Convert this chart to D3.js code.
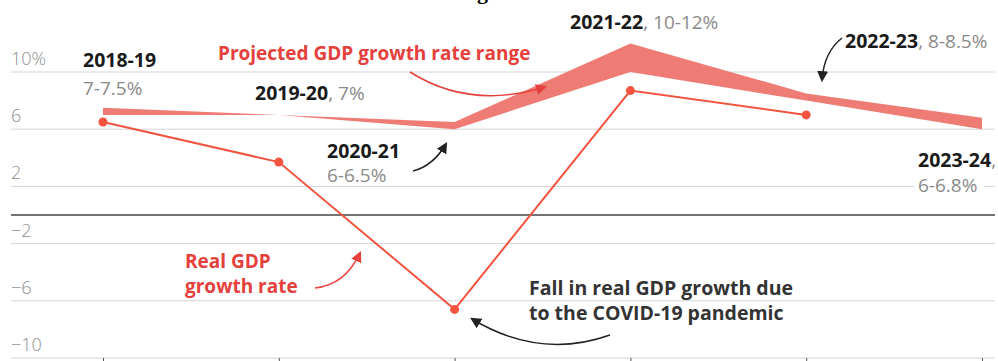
<!DOCTYPE html>
<head>
<style>
    body { margin: 0; background: #fff; font-family: "Open Sans", "Noto Sans", sans-serif; }
    .grid line { stroke: #d4d4d4; stroke-width: 1; }
    .ylab { fill: #8f8f8f; font-size: 18px; font-weight: 300; }
    .yr { font-weight: bold; fill: #1a1a1a; font-size: 19.5px; }
    .val { fill: #8a8a8a; font-size: 19px; font-weight: normal; }
    .red { fill: #e5403b; font-weight: bold; font-size: 19px; }
    .note { font-weight: bold; fill: #333; font-size: 19.5px; }
</style>
</head>
<body>
<script src="https://cdnjs.cloudflare.com/ajax/libs/d3/7.8.5/d3.min.js"></script>
<script>
var years = ["2018-19", "2019-20", "2020-21", "2021-22", "2022-23", "2023-24"];
var realGrowth = [6.5, 3.7, -6.6, 8.7, 7.0, null];
var projLow = [7, 7, 6, 10, 8, 6];
var projHigh = [7.5, 7, 6.5, 12, 8.5, 6.8];
var yTicks = [10, 6, 2, -2, -6, -10];

var width = 998, height = 361;
var svg = d3.select("body").append("svg")
    .attr("width", width)
    .attr("height", height);

var x = d3.scalePoint().domain(years).range([103, 982]);
var y = d3.scaleLinear().domain([-10, 10]).range([358, 72]);

// title sits above the frame, only a descender shows
svg.append("text")
    .attr("x", 477).attr("y", -1)
    .attr("font-family", "'Liberation Serif', serif")
    .attr("font-weight", "bold").attr("font-size", 22)
    .attr("text-anchor", "end")
    .text("India's GDP ");
svg.append("text")
    .attr("x", 477).attr("y", -1)
    .attr("font-family", "'Liberation Serif', serif")
    .attr("font-weight", "bold").attr("font-size", 22)
    .text("growth");

// gridlines
var grid = svg.append("g").attr("class", "grid");
grid.selectAll("line")
    .data(yTicks)
    .enter().append("line")
    .attr("x1", 11).attr("x2", 995)
    .attr("y1", function(d) { return y(d); })
    .attr("y2", function(d) { return y(d); });

svg.append("line")
    .attr("x1", 11).attr("x2", 995)
    .attr("y1", y(0)).attr("y2", y(0))
    .attr("stroke", "#444").attr("stroke-width", 1.3);

svg.selectAll(".ylab")
    .data(yTicks)
    .enter().append("text")
    .attr("class", "ylab")
    .attr("x", 11)
    .attr("y", function(d) { return y(d) - 7; })
    .text(function(d) { return d == 10 ? "10%" : d < 0 ? "\u2212" + Math.abs(d) : d; });

// bottom ticks
var xAxis = svg.append("g")
    .attr("transform", "translate(0," + y(-10) + ")")
    .call(d3.axisBottom(x).tickSize(5).tickFormat(""));
xAxis.select(".domain").remove();
xAxis.selectAll("line").attr("stroke", "#555");

// projected range band
var band = years.map(function(d, i) { return {year: d, lo: projLow[i], hi: projHigh[i]}; });
svg.append("path")
    .datum(band)
    .attr("fill", "#ef7b75")
    .attr("d", d3.area()
        .x(function(d) { return x(d.year); })
        .y0(function(d) { return y(d.lo); })
        .y1(function(d) { return y(d.hi); }));

// real growth line
var real = years.map(function(d, i) { return {year: d, v: realGrowth[i]}; })
    .filter(function(d) { return d.v != null; });
svg.append("path")
    .datum(real)
    .attr("fill", "none")
    .attr("stroke", "#f25440")
    .attr("stroke-width", 2)
    .attr("d", d3.line()
        .x(function(d) { return x(d.year); })
        .y(function(d) { return y(d.v); }));

svg.selectAll(".dot")
    .data(real)
    .enter().append("circle")
    .attr("class", "dot")
    .attr("cx", function(d) { return x(d.year); })
    .attr("cy", function(d) { return y(d.v); })
    .attr("r", 4.5)
    .attr("fill", "#f25440");

// arrow heads
var defs = svg.append("defs");
[["ah-black", "#222"], ["ah-red", "#e5403b"]].forEach(function(m) {
    defs.append("marker")
        .attr("id", m[0])
        .attr("viewBox", "0 0 10 10")
        .attr("refX", 8).attr("refY", 5)
        .attr("markerWidth", 11).attr("markerHeight", 11)
        .attr("markerUnits", "userSpaceOnUse")
        .attr("orient", "auto")
        .append("path")
        .attr("d", "M0,0L10,5L0,10z")
        .attr("fill", m[1]);
});

function arrow(d, color, id) {
    svg.append("path")
        .attr("d", d)
        .attr("fill", "none")
        .attr("stroke", color)
        .attr("stroke-width", 1.5)
        .attr("marker-end", "url(#" + id + ")");
}

// labels
function label(xp, yp, bold, rest) {
    var t = svg.append("text").attr("x", xp).attr("y", yp).attr("class", "yr");
    t.append("tspan").text(bold);
    if (rest) t.append("tspan").attr("class", "val").text(rest);
    return t;
}

label(83, 67, "2018-19");
svg.append("text").attr("class", "val").attr("x", 83).attr("y", 95).text("7-7.5%");
label(255, 100, "2019-20", ", 7%");
label(327, 158, "2020-21");
svg.append("text").attr("class", "val").attr("x", 327).attr("y", 182).text("6-6.5%");
label(570, 29, "2021-22", ", 10-12%");
label(845, 48, "2022-23", ", 8-8.5%");
label(918, 167, "2023-24", ",");
svg.append("rect").attr("x", 914).attr("y", 177).attr("width", 70).attr("height", 20).attr("fill", "#fff");
svg.append("text").attr("class", "val").attr("x", 918).attr("y", 192).text("6-6.8%");

svg.append("text").attr("class", "red").attr("x", 218).attr("y", 60).text("Projected GDP growth rate range");
svg.append("text").attr("class", "red").attr("x", 185).attr("y", 268).text("Real GDP");
svg.append("text").attr("class", "red").attr("x", 185).attr("y", 293).text("growth rate");

svg.append("text").attr("class", "note").attr("x", 529).attr("y", 295).text("Fall in real GDP growth due");
svg.append("text").attr("class", "note").attr("x", 529).attr("y", 320).text("to the COVID-19 pandemic");

arrow("M413,171 Q433,166 446,144", "#222", "ah-black");
arrow("M842,38 Q824,52 822,80", "#222", "ah-black");
arrow("M610,335 Q540,360 472,319", "#222", "ah-black");
arrow("M410,72 Q470,110 545,87", "#e5403b", "ah-red");
arrow("M315,288 Q345,285 360,253", "#e5403b", "ah-red");
</script>
</body>
